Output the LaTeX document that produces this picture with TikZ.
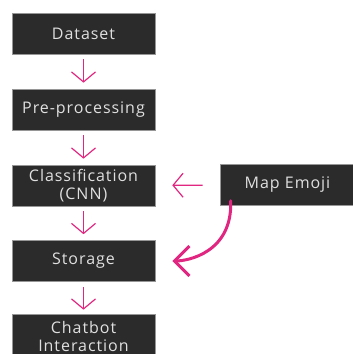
\documentclass[tikz,border=0pt]{standalone}
\usepackage{fontspec}
\setsansfont[LetterSpace=6]{Open Sans}
\usetikzlibrary{arrows.meta}

\definecolor{boxfill}{RGB}{43,43,43}
\definecolor{boxline}{RGB}{150,150,150}
\definecolor{flowpink}{RGB}{224,38,128}

\tikzset{
  stage/.style={draw=boxline, line width=0.6pt, fill=boxfill, text=white!88!black,
    minimum width=143pt, minimum height=41pt, inner sep=0pt, align=center,
    font=\sffamily\fontsize{16}{18}\selectfont},
  flow/.style={flowpink, line width=1.2pt, -{Straight Barb[length=10pt,width=24pt]}},
  bigflow/.style={flowpink, line width=3pt, line cap=round,
    -{Straight Barb[length=15pt,width=30pt]}}
}

\begin{document}
\begin{tikzpicture}[x=1pt, y=-1pt]
  \useasboundingbox (0,0) rectangle (353,354);
  \clip (0,0) rectangle (353,354);

  % pipeline column
  \node[stage] (data)  at (83.5, 33.5)  {Dataset};
  \node[stage] (prep)  at (83.5, 109.5) {Pre-processing};
  \node[stage] (cnn)   at (83.5, 185.5) {Classification\\(CNN)};
  \node[stage] (store) at (83.5, 261)   {Storage};
  \node[stage, minimum height=44pt] (chat) at (83.5, 336) {Chatbot\\Interaction};

  % side box
  \node[stage, minimum width=135pt] (emoji) at (287.5, 185) {Map Emoji};

  % downward steps
  \draw[flow, shorten <=5pt, shorten >=6pt] (data) -- (prep);
  \draw[flow, shorten <=5pt, shorten >=6pt] (prep) -- (cnn);
  \draw[flow, shorten <=5pt, shorten >=6pt] (cnn) -- (store);
  \draw[flow, shorten <=5pt, shorten >=4pt] (store) -- (chat);

  % emoji feeds classification and storage
  \draw[flow, shorten <=17pt, shorten >=17pt] (emoji) -- (cnn);
  \draw[bigflow, shorten >=17pt] ([xshift=11pt, yshift=5pt]emoji.south west)
    .. controls +(2,52) and +(32,0) .. (store.east);
\end{tikzpicture}
\end{document}
